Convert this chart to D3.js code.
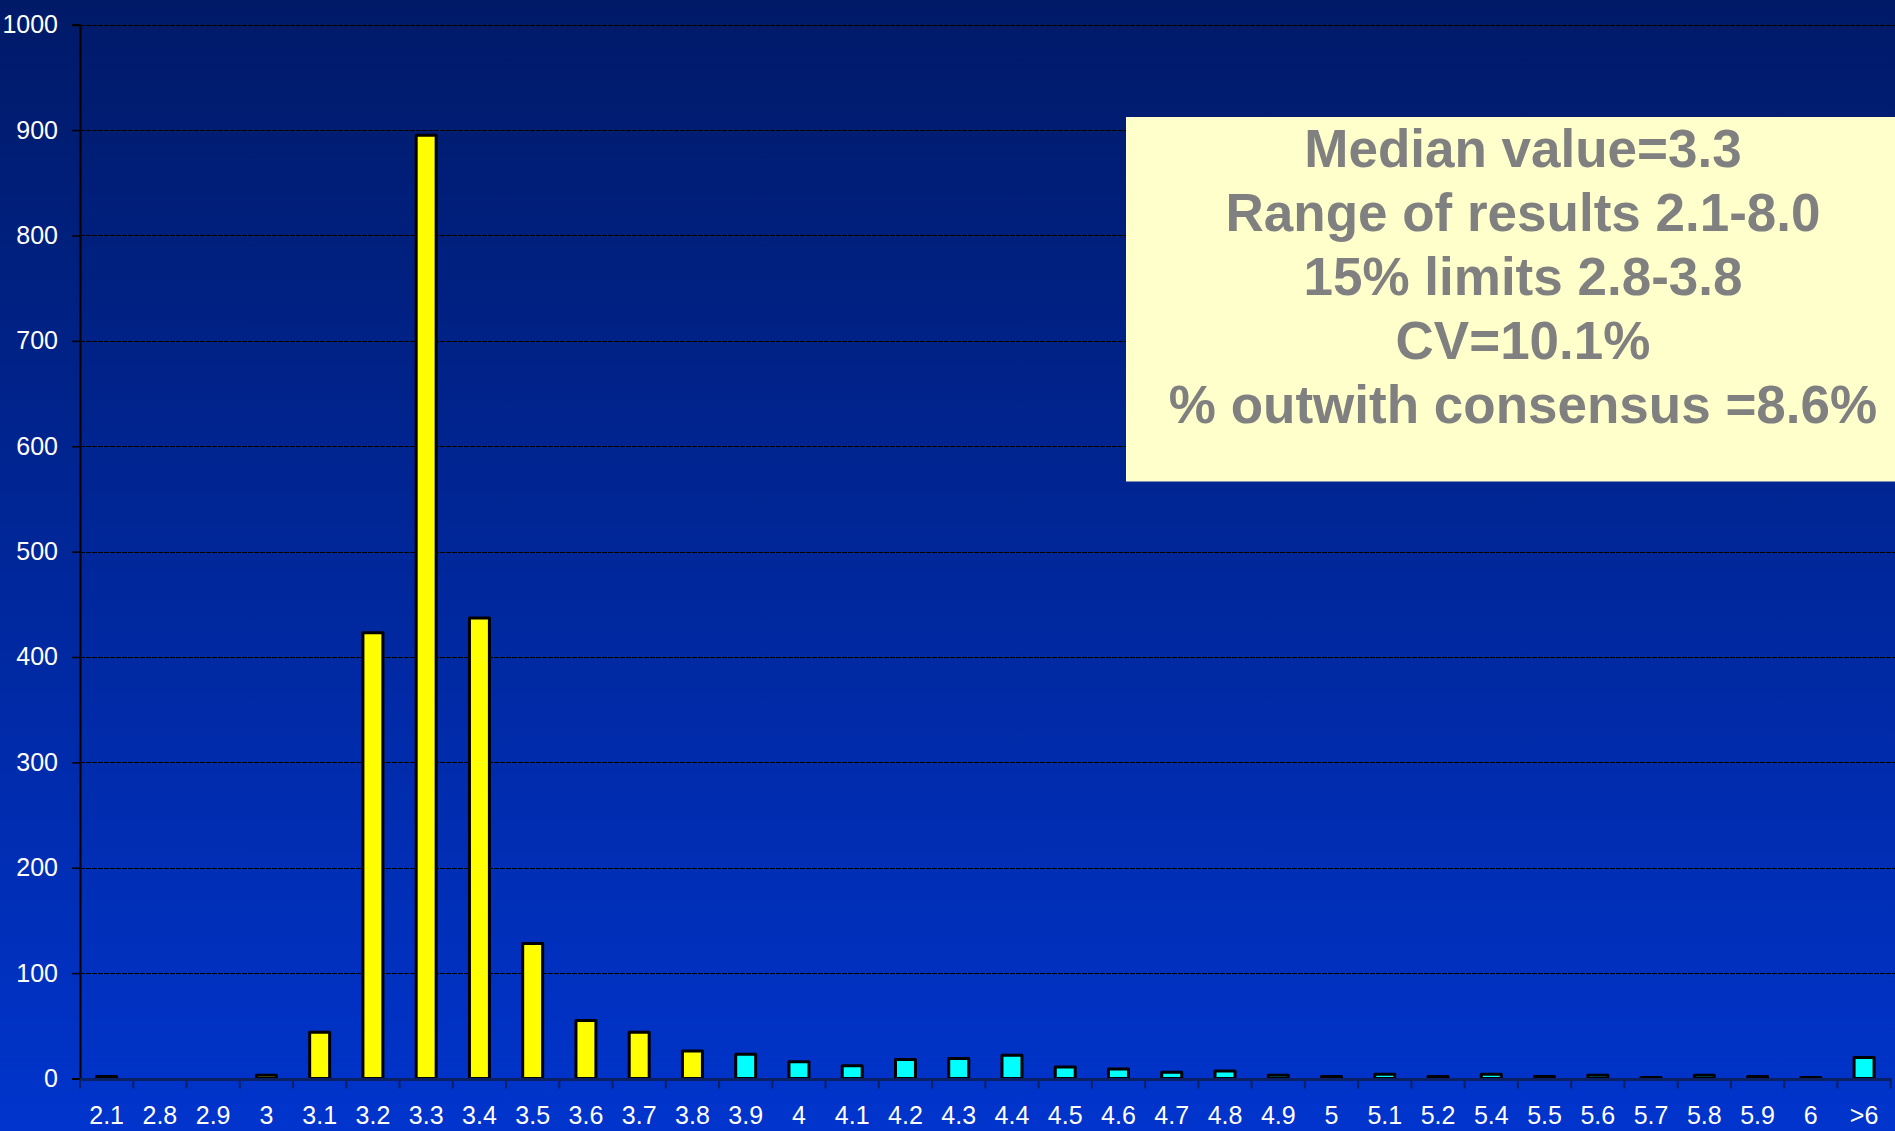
<!DOCTYPE html>
<html>
<head>
<meta charset="utf-8">
<script src="https://cdn.jsdelivr.net/npm/d3@7/dist/d3.min.js"></script>
<style>
  html, body { margin: 0; padding: 0; background: #001a66; }
  svg { display: block; }
  text { font-family: "Liberation Sans", Arial, sans-serif; }
</style>
</head>
<body>
<svg id="chart" width="1895" height="1131"></svg>
<script>
// Reported results, binned by value
const categories = ["2.1","2.8","2.9","3","3.1","3.2","3.3","3.4","3.5","3.6","3.7","3.8",
  "3.9","4","4.1","4.2","4.3","4.4","4.5","4.6","4.7","4.8","4.9",
  "5","5.1","5.2","5.4","5.5","5.6","5.7","5.8","5.9","6",">6"];
const counts = [2,0,0,3,44,423,895,437,128,55,44,26,
  23,16,12,18,19,22,11,9,6,7,3,
  2,4,2,4,2,3,1,3,2,1,20];
const yTicks = [0,100,200,300,400,500,600,700,800,900,1000];
const consensusLimits = [2.8, 3.8];
const summaryLines = [
  "Median value=3.3",
  "Range of results 2.1-8.0",
  "15% limits 2.8-3.8",
  "CV=10.1%",
  "% outwith consensus =8.6%"
];

const W = 1895, H = 1131;
const svg = d3.select("#chart");

// background gradient
const defs = svg.append("defs");
const grad = defs.append("linearGradient").attr("id", "bg")
  .attr("x1", 0).attr("y1", 0).attr("x2", 0).attr("y2", 1);
grad.append("stop").attr("offset", "0%").attr("stop-color", "#001a68");
grad.append("stop").attr("offset", "100%").attr("stop-color", "#0034cc");
svg.append("rect").attr("width", W).attr("height", H).attr("fill", "url(#bg)");

const plotLeft = 80, plotRight = 1890.7, plotTop = 24.7, plotBottom = 1078.5;

const x = d3.scaleBand().domain(categories).range([plotLeft, plotRight])
  .paddingInner(0).paddingOuter(0);
const y = d3.scaleLinear().domain([0, 1000]).range([plotBottom, plotTop]);

// horizontal gridlines
svg.append("g").selectAll("line").data(yTicks.filter(d => d > 0)).join("line")
  .attr("x1", plotLeft).attr("x2", W)
  .attr("y1", d => Math.round(y(d)) + 0.5).attr("y2", d => Math.round(y(d)) + 0.5)
  .attr("stroke", "#000")
  .attr("stroke-width", 1.2)
  .attr("stroke-dasharray", "5,1");

// value axis
const yAxis = d3.axisLeft(y).tickValues(yTicks).tickSize(8).tickPadding(14)
  .tickFormat(d3.format("d"));
const gy = svg.append("g").attr("transform", `translate(${plotLeft},0)`).call(yAxis);
gy.select(".domain").attr("stroke", "#000").attr("stroke-width", 2);
gy.selectAll(".tick line").attr("stroke", "#000").attr("stroke-width", 1.5);
gy.selectAll(".tick text").attr("fill", "#fff").attr("font-size", 25)
  .attr("font-family", "'Liberation Sans', Arial, sans-serif");

// bars
const inLimits = c => {
  const v = parseFloat(c);
  return !isNaN(v) && c[0] !== ">" && v >= consensusLimits[0] && v <= consensusLimits[1];
};
const barW = x.bandwidth() * 0.375;
svg.append("g").selectAll("rect").data(categories.map((c, i) => ({ c, v: counts[i] })))
  .join("rect")
  .filter(d => d.v > 0)
  .attr("x", d => x(d.c) + (x.bandwidth() - barW) / 2)
  .attr("y", d => y(d.v))
  .attr("width", barW)
  .attr("height", d => y(0) - y(d.v))
  .attr("fill", d => inLimits(d.c) ? "#ffff00" : "#00ffff")
  .attr("stroke", "#000")
  .attr("stroke-width", 3)
  .attr("stroke-linejoin", "round");

// category axis
const xAxis = d3.axisBottom(x).tickSize(0).tickPadding(27);
const gx = svg.append("g").attr("transform", `translate(0,${plotBottom + 1})`).call(xAxis);
gx.select(".domain").remove();
gx.selectAll(".tick text").attr("fill", "#fff").attr("font-size", 25)
  .attr("font-family", "'Liberation Sans', Arial, sans-serif");

// axis baseline and boundary ticks
const boundaries = categories.map(c => x(c)).concat([x(categories[categories.length - 1]) + x.bandwidth()]);
svg.append("line")
  .attr("x1", plotLeft).attr("x2", plotRight + 1)
  .attr("y1", plotBottom + 1).attr("y2", plotBottom + 1)
  .attr("stroke", "#0b1f63").attr("stroke-width", 3);
svg.append("g").selectAll("line").data(boundaries).join("line")
  .attr("x1", d => d).attr("x2", d => d)
  .attr("y1", plotBottom + 1).attr("y2", plotBottom + 10)
  .attr("stroke", "#0b1f63").attr("stroke-width", 2);

// summary box
const box = svg.append("g");
box.append("rect").attr("x", 1126).attr("y", 117).attr("width", W - 1126 + 10).attr("height", 364.5)
  .attr("fill", "#ffffcc");
box.selectAll("text").data(summaryLines).join("text")
  .attr("x", 1523)
  .attr("y", (d, i) => 167 + i * 64)
  .attr("text-anchor", "middle")
  .attr("font-size", 53)
  .attr("font-weight", "bold")
  .attr("fill", "#808080")
  .text(d => d);
</script>
</body>
</html>
